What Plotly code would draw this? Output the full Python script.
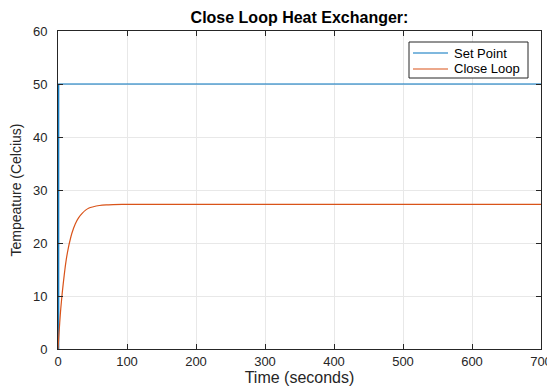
import plotly.graph_objects as go

# Data
sp_time = [0, 1, 1, 700]
sp_temp = [0, 0, 50, 50]

cl_time = [0, 1, 2, 3, 4, 5, 6, 8, 10, 12, 15, 18, 20, 25, 30, 35, 40, 45, 50, 60, 70, 80, 100, 700]
cl_temp = [0, 2.1, 4.0, 5.9, 7.6, 9.0, 10.4, 12.8, 15.0, 16.9, 19.1, 20.8, 21.8, 23.6, 24.8, 25.6,
           26.2, 26.6, 26.8, 27.08, 27.2, 27.25, 27.3, 27.3]

series_names = ["Set Point", "Close Loop"]
series_colors = ["#0072BD", "#D95319"]

title = "Close Loop Heat Exchanger:"
x_label = "Time (seconds)"
y_label = "Tempeature (Celcius)"
x_ticks = [0, 100, 200, 300, 400, 500, 600, 700]
y_ticks = [0, 10, 20, 30, 40, 50, 60]

font_family = "Liberation Sans, Arial, Helvetica, sans-serif"
axis_col = "#262626"

# the page body adds an ~8px offset; margins compensate for it
OFF = 8
W, H = 555, 390
PL, PR, PT, PB = 58, 541, 31, 349  # plot area in page pixels


def px_x(x):
    return (x - PL) / (PR - PL)


def px_y(y):
    return (PB - y) / (PB - PT)


fig = go.Figure()
fig.add_trace(go.Scatter(x=sp_time, y=sp_temp, mode="lines", name=series_names[0],
                         line=dict(color=series_colors[0], width=1.2)))
fig.add_trace(go.Scatter(x=cl_time, y=cl_temp, mode="lines", name=series_names[1],
                         line=dict(color=series_colors[1], width=1.2, shape="spline", smoothing=0.6)))

axis_common = dict(
    showline=True, linecolor=axis_col, linewidth=1, mirror="ticks",
    ticks="inside", ticklen=5, tickcolor=axis_col,
    showgrid=True, gridcolor="#e8e8e8", gridwidth=1,
    zeroline=False, automargin=False,
    tickfont=dict(family=font_family, size=13, color=axis_col),
)

fig.update_xaxes(range=[0, 700], tickvals=x_ticks, ticklabelstandoff=0,
                 title=dict(text=x_label, font=dict(family=font_family, size=16, color=axis_col), standoff=4),
                 **axis_common)
fig.update_yaxes(range=[0, 60], tickvals=y_ticks, ticklabelstandoff=7,
                 title=dict(text=y_label, font=dict(family=font_family, size=14, color=axis_col), standoff=10),
                 **axis_common)

# Legend box drawn as in the MATLAB figure
shapes = [dict(type="rect", xref="paper", yref="paper",
               x0=px_x(409), x1=px_x(528), y0=px_y(78), y1=px_y(42),
               line=dict(color=axis_col, width=1), fillcolor="white", layer="above")]
annotations = []
for i, (name, col) in enumerate(zip(series_names, series_colors)):
    yy = 53 + 16 * i
    shapes.append(dict(type="line", xref="paper", yref="paper",
                       x0=px_x(413), x1=px_x(448), y0=px_y(yy), y1=px_y(yy),
                       line=dict(color=col, width=1.2), layer="above"))
    annotations.append(dict(text=name, xref="paper", yref="paper", x=px_x(452), y=px_y(yy),
                            xanchor="left", yanchor="middle", showarrow=False,
                            font=dict(family=font_family, size=13, color="black")))

fig.update_layout(
    width=W, height=H,
    margin=dict(l=PL - OFF, r=W - PR + OFF, t=PT - OFF, b=H - PB + OFF),
    paper_bgcolor="white", plot_bgcolor="white",
    title=dict(text="<b>" + title + "</b>", x=((PL + PR) / 2 - OFF) / W, xanchor="center",
               y=1 - (17 - OFF) / H, yanchor="middle", automargin=False,
               font=dict(family=font_family, size=16, color="black")),
    shapes=shapes,
    annotations=annotations,
    showlegend=False,
)

fig.write_html("out.html")
